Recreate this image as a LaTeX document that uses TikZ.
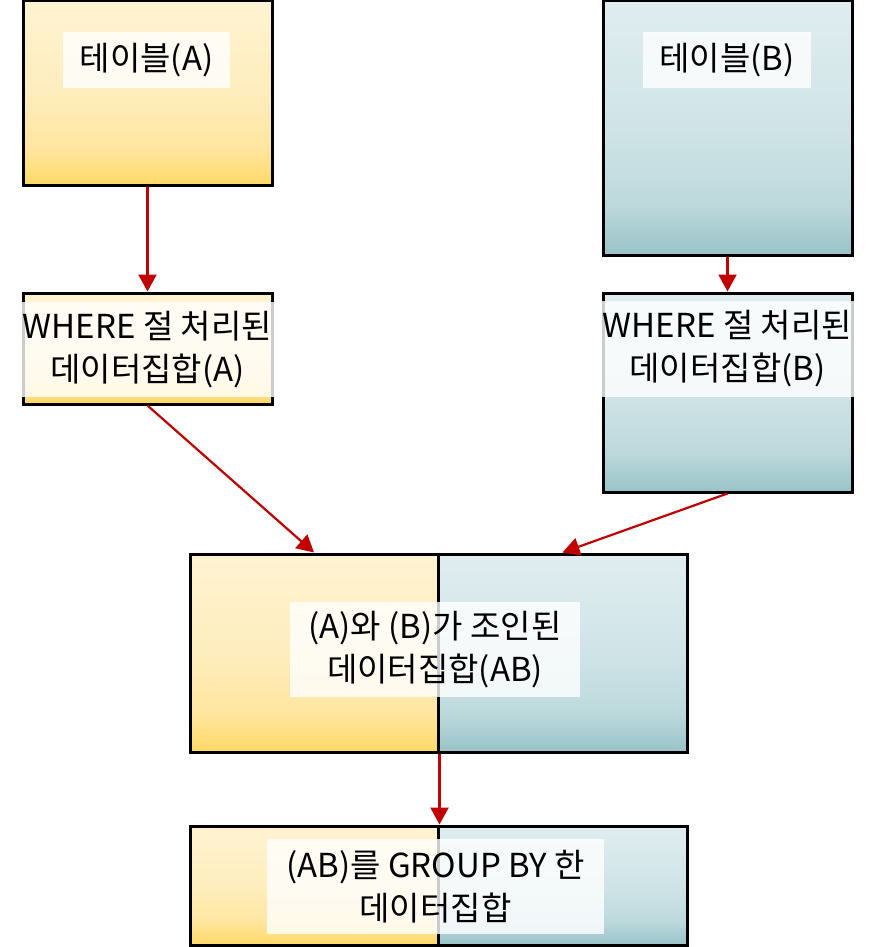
\documentclass[tikz,border=0pt]{standalone}
\usepackage{fontspec}
\setmainfont{Noto Sans CJK KR}
\usetikzlibrary{arrows.meta}
\definecolor{yTop}{HTML}{FFF3D2}
\definecolor{yMid}{HTML}{FEEDBD}
\definecolor{yLow}{HTML}{FFE6A0}
\definecolor{yBot}{HTML}{FFD966}
\definecolor{tTop}{HTML}{E0EDF0}
\definecolor{tMid}{HTML}{CFE4E7}
\definecolor{tLow}{HTML}{BDD9DC}
\definecolor{tBot}{HTML}{98C3C8}
\definecolor{arr}{HTML}{C00000}
\pgfdeclareverticalshading{yshade}{100bp}{color(0bp)=(yBot); color(25bp)=(yBot); color(35bp)=(yLow); color(50bp)=(yMid); color(75bp)=(yTop); color(100bp)=(yTop)}
\pgfdeclareverticalshading{tshade}{100bp}{color(0bp)=(tBot); color(25bp)=(tBot); color(35bp)=(tLow); color(50bp)=(tMid); color(75bp)=(tTop); color(100bp)=(tTop)}
\tikzset{
  tbox/.style={draw=black, line width=3pt, inner sep=0pt},
  ybox/.style={tbox, shading=yshade},
  bbox/.style={tbox, shading=tshade},
  lbl/.style={fill=white, fill opacity=0.8, text opacity=1, inner sep=0pt,
              align=center, font=\fontsize{33}{43}\selectfont},
  conn/.style={draw=arr, line width=2.2pt, -{Triangle[length=17pt,width=18pt]}},
}
\begin{document}
\begin{tikzpicture}[x=1pt,y=-1pt]
\useasboundingbox (0,0) rectangle (875,947);
% boxes
\node[ybox, minimum width=249pt, minimum height=184pt] (ta) at (147.5,93) {};
\node[bbox, minimum width=249pt, minimum height=254pt] (tb) at (727.5,128) {};
\node[ybox, minimum width=249pt, minimum height=111pt] (wa) at (147.5,348.5) {};
\node[bbox, minimum width=249pt, minimum height=199pt] (wb) at (727.5,392.5) {};
\node[ybox, minimum width=248pt, minimum height=198pt] (jl) at (314,653) {};
\node[bbox, minimum width=249pt, minimum height=198pt] (jr) at (562.5,653) {};
\node[ybox, minimum width=248pt, minimum height=119pt] (gl) at (314,885.5) {};
\node[bbox, minimum width=249pt, minimum height=119pt] (gr) at (562.5,885.5) {};
% labels
\node[lbl, minimum width=167pt, minimum height=56pt] (lta) at (146.5,60) {테이블(A)};
\node[lbl, minimum width=168pt, minimum height=56pt] (ltb) at (727,60) {테이블(B)};
\node[lbl, minimum width=252pt, minimum height=95pt] (lwa) at (147.5,349.5) {WHERE 절 처리된\\데이터집합(A)};
\node[lbl, minimum width=252pt, minimum height=96pt] (lwb) at (727.5,349) {WHERE 절 처리된\\데이터집합(B)};
\node[lbl, minimum width=290pt, minimum height=95pt] (lj) at (435,649.5) {(A)와 (B)가 조인된\\데이터집합(AB)};
\node[lbl, minimum width=337pt, minimum height=95pt] (lg) at (435.5,886.5) {(AB)를 GROUP BY 한\\데이터집합};
% connectors
\draw[conn] (ta.south) -- (wa.north);
\draw[conn] (tb.south) -- (wb.north);
\draw[conn] (wa.south) -- (jl.north);
\draw[conn] (wb.south) -- (jr.north);
\draw[conn] (jl.south east) -- (gl.north east);
\end{tikzpicture}
\end{document}
